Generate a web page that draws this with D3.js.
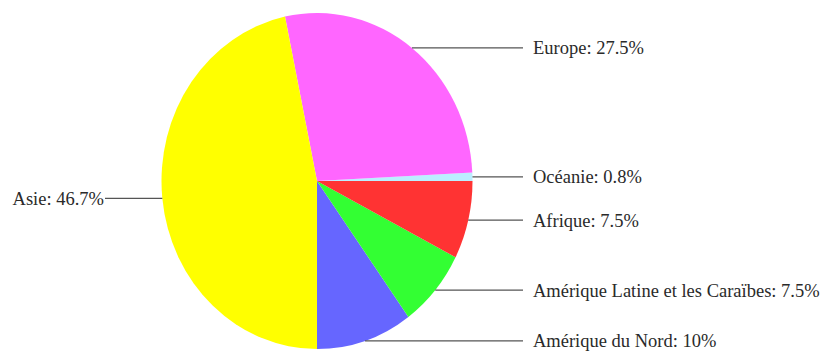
<!DOCTYPE html>
<html>
<head>
<meta charset="utf-8">
<script src="https://cdn.jsdelivr.net/npm/d3@7"></script>
<style>
  body { margin: 0; background: #fff; }
  text { font-family: "Liberation Serif", "Times New Roman", serif; font-size: 18.5px; fill: #2a2a2a; }
</style>
</head>
<body>
<div id="chart"></div>
<script>
// regions in drawing order (counter-clockwise from 6 o'clock)
const regions = ["Amérique du Nord", "Amérique Latine et les Caraïbes", "Afrique", "Océanie", "Europe", "Asie"];
const shares = [10, 7.5, 7.5, 0.8, 27.5, 46.7];
const colors = ["#6666ff", "#33ff33", "#ff3333", "#bbeeff", "#ff66ff", "#ffff00"];
const labels = ["Amérique du Nord: 10%", "Amérique Latine et les Caraïbes: 7.5%", "Afrique: 7.5%", "Océanie: 0.8%", "Europe: 27.5%", "Asie: 46.7%"];

const width = 824, height = 353;
const cx = 317, cy = 181;
const rx = 155.5, ry = 168;

const svg = d3.select("#chart").append("svg").attr("width", width).attr("height", height);

const pie = d3.pie().sort(null).startAngle(Math.PI).endAngle(-Math.PI);
const arcs = pie(shares);

const arc = d3.arc().innerRadius(0).outerRadius(rx);

// slightly taller than wide, like the original
const g = svg.append("g").attr("transform", `translate(${cx},${cy}) scale(1,${ry / rx})`);
g.selectAll("path")
    .data(arcs)
    .join("path")
    .attr("d", arc)
    .attr("fill", (d, i) => colors[i]);

const lineX = { right: 523, left: 105 };
arcs.forEach((d, i) => {
    const mid = (d.startAngle + d.endAngle) / 2;
    const px = cx + rx * Math.sin(mid);
    const py = cy - ry * Math.cos(mid);
    const right = Math.sin(mid) > 0;
    const x2 = right ? lineX.right : lineX.left;
    svg.append("line")
        .attr("x1", px).attr("y1", py)
        .attr("x2", x2).attr("y2", py)
        .attr("stroke", "#555")
        .attr("stroke-width", 1.2);
    svg.append("text")
        .attr("x", right ? x2 + 10 : x2 - 1)
        .attr("y", py)
        .attr("dy", "0.35em")
        .attr("text-anchor", right ? "start" : "end")
        .text(labels[i]);
});
</script>
</body>
</html>
